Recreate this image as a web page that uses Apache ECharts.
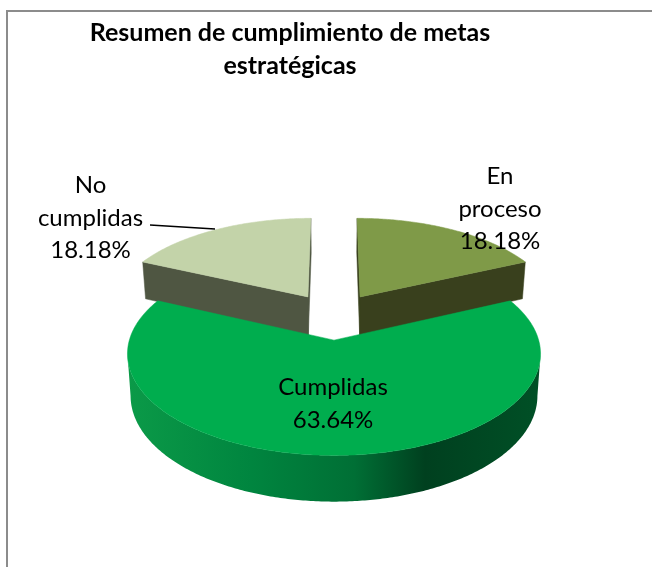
<!DOCTYPE html>
<html>
<head>
<meta charset="utf-8">
<style>html,body{margin:0;padding:0;background:#fff}#chart{width:652px;height:567px}</style>
<script src="https://cdn.jsdelivr.net/npm/echarts@6/dist/echarts.min.js"></script>
</head>
<body>
<div id="chart"></div>
<script>
const titleText = 'Resumen de cumplimiento de metas\nestratégicas'
// clockwise from 12 o'clock
const categories = ['En proceso', 'Cumplidas', 'No cumplidas']
const percents   = [18.18, 63.64, 18.18]
const labelLines = [['En', 'proceso'], ['Cumplidas'], ['No', 'cumplidas']]

const FONT = 'Lato, Carlito, sans-serif'

// look of each slice: top face, cut wall, label centre
const topColors  = ['#7F9A48', '#00AD4E', '#C3D3A9']
const wallColors = ['#39401D', '#00602C', '#4F5642']
const labelPos   = [[500, 209], [333, 404], [90.5, 218]]
const labelGap   = 32.5

// projective tilt of the pie plane
const CX = 334, CY = 316, RX = 198, RY = 93.4, TILT = 0.13
const EXPLODE = 0.25

const project = (u, v) => {
  const s = 1 / (1 - TILT * v)
  return [CX + RX * u * s, CY + RY * v * s]
}
// same point on the lower face of the pie
const lower = (u, v) => {
  const [x, y] = project(u, v)
  return [CX + (x - CX) * 0.985, y + 40 + 5 * v]
}

const total = percents.reduce((a, b) => a + b, 0)

function renderSlice(params, api) {
  const i = params.dataIndex
  const before = percents.slice(0, i).reduce((a, b) => a + b, 0)
  const a0 = before / total * Math.PI * 2
  const a1 = (before + api.value(1)) / total * Math.PI * 2
  const mid = (a0 + a1) / 2
  const u0 = Math.sin(mid) * EXPLODE, v0 = -Math.cos(mid) * EXPLODE

  const rim = []
  const steps = Math.ceil((a1 - a0) * 90)
  for (let k = 0; k <= steps; k++) {
    const a = a0 + (a1 - a0) * k / steps
    rim.push([u0 + Math.sin(a), v0 - Math.cos(a)])
  }
  const first = rim[0], last = rim[rim.length - 1]
  const z = i === 1 ? 20 : 10
  const children = []

  const wall = (p) => ({
    type: 'polygon', z2: z,
    shape: { points: [project(p[0], p[1]), project(u0, v0), lower(u0, v0), lower(p[0], p[1])] },
    style: { fill: wallColors[i], stroke: wallColors[i], lineWidth: 0.5 },
  })

  if (i === 1) {
    // outer rim only between its left and right extremes, the rest sits under the top face
    const xs = rim.map((p) => project(p[0], p[1])[0])
    const kRight = xs.indexOf(Math.max(...xs))
    const kLeft = xs.indexOf(Math.min(...xs))
    const seen = rim.slice(kRight, kLeft + 1)
    const side = seen.map((p) => project(p[0], p[1]))
      .concat(seen.slice().reverse().map((p) => lower(p[0], p[1])))
    children.push({
      type: 'polygon', z2: z,
      shape: { points: side },
      style: {
        fill: new echarts.graphic.LinearGradient(127, 0, 541, 0, [
          { offset: 0, color: '#0B9A48' },
          { offset: 0.3, color: '#00853F' },
          { offset: 0.55, color: '#006F35' },
          { offset: 0.72, color: '#00401F' },
          { offset: 1, color: '#005026' },
        ], true),
      },
    })
  } else {
    children.push(wall(first), wall(last))
  }

  children.push({
    type: 'polygon', z2: z + 1,
    shape: { points: rim.map((p) => project(p[0], p[1])).concat([project(u0, v0)]) },
    style: { fill: topColors[i], stroke: topColors[i], lineWidth: 0.5 },
  })

  // leader line of the left label
  if (i === 2) {
    children.push({
      type: 'line', z2: 30,
      shape: { x1: 150, y1: 225, x2: 215, y2: 229 },
      style: { stroke: '#000', lineWidth: 1.5 },
    })
  }

  const lines = labelLines[i].concat([api.value(1).toFixed(2) + '%'])
  lines.forEach((t, n) => {
    children.push({
      type: 'text', z2: 40,
      style: {
        text: t,
        x: labelPos[i][0],
        y: labelPos[i][1] + (n - (lines.length - 1) / 2) * labelGap,
        align: 'center', verticalAlign: 'middle',
        font: '24px ' + FONT, fill: '#000',
      },
    })
  })
  return { type: 'group', children }
}

const chart = echarts.init(document.getElementById('chart'), null, { renderer: 'canvas' })
chart.setOption({
  animation: false,
  backgroundColor: '#fff',
  title: {
    text: titleText,
    left: 290, top: 16, padding: 0,
    textAlign: 'center',
    textStyle: { fontFamily: FONT, fontSize: 25, fontWeight: 'bold', color: '#000', lineHeight: 33 },
  },
  graphic: [{
    type: 'rect', silent: true,
    shape: { x: 7, y: 11, width: 700, height: 620 },
    style: { fill: 'none', stroke: '#8C8C8C', lineWidth: 2 },
  }],
  series: [{
    type: 'custom',
    coordinateSystem: 'none',
    renderItem: renderSlice,
    data: categories.map((c, i) => [c, percents[i]]),
    dimensions: ['name', 'percent'],
    encode: { itemName: 0, value: 1 },
  }],
})
</script>
</body>
</html>
